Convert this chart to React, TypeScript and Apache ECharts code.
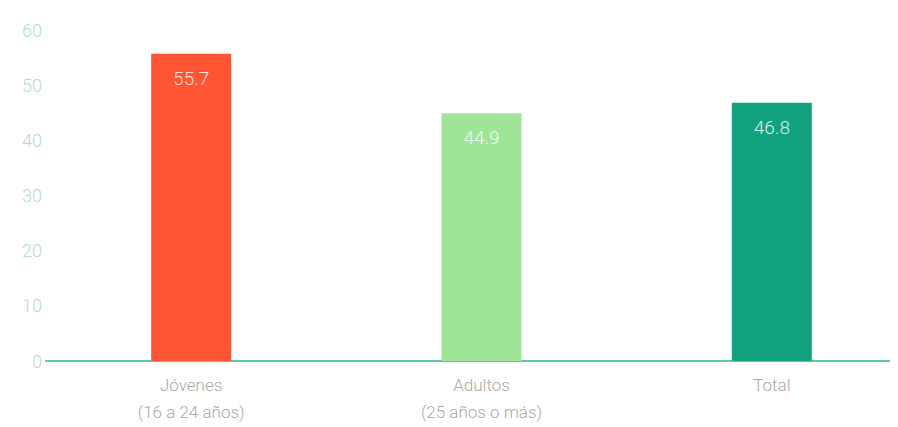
import React, { useEffect, useRef } from "react";
import * as echarts from "echarts";

const categories = ["Jóvenes\n(16 a 24 años)", "Adultos\n(25 años o más)", "Total"];
const values = [55.7, 44.9, 46.8];
const barColors = ["#FF5533", "#9EE59A", "#11A27F"];

export default function App() {
  const ref = useRef<HTMLDivElement>(null);
  useEffect(() => {
    const chart = echarts.init(ref.current!, null, { renderer: "svg" });
    chart.setOption({
      animation: false,
      grid: { left: 38, right: -19, top: 22, bottom: 66, outerBoundsMode: "none", containLabel: false },
      xAxis: {
        type: "category",
        data: categories,
        axisLine: { show: true, lineStyle: { color: "#5FCAA6", width: 2 } },
        axisTick: { show: false },
        axisLabel: {
          color: "#A9A9A9",
          fontFamily: "Roboto",
          fontWeight: 300,
          fontSize: 17,
          lineHeight: 27,
          margin: 10,
        },
      },
      yAxis: {
        type: "value",
        min: 0,
        max: 60,
        interval: 10,
        splitLine: { show: false },
        axisLine: { show: false },
        axisTick: { show: false },
        axisLabel: {
          color: "#B9D9CF",
          fontFamily: "Roboto",
          fontWeight: 300,
          fontSize: 18,
          margin: 4,
        },
      },
      series: [
        {
          type: "bar",
          barWidth: 80,
          data: values.map((v, i) => ({ value: v, itemStyle: { color: barColors[i] } })),
          label: {
            show: true,
            position: "insideTop",
            distance: 15,
            color: "rgba(255,255,255,0.85)",
            fontFamily: "Roboto",
            fontWeight: 300,
            fontSize: 19,
            formatter: (p: any) => String(p.value),
          },
        },
      ],
    });
    return () => chart.dispose();
  }, []);
  return <div ref={ref} style={{ width: 890, height: 419 }} />;
}
